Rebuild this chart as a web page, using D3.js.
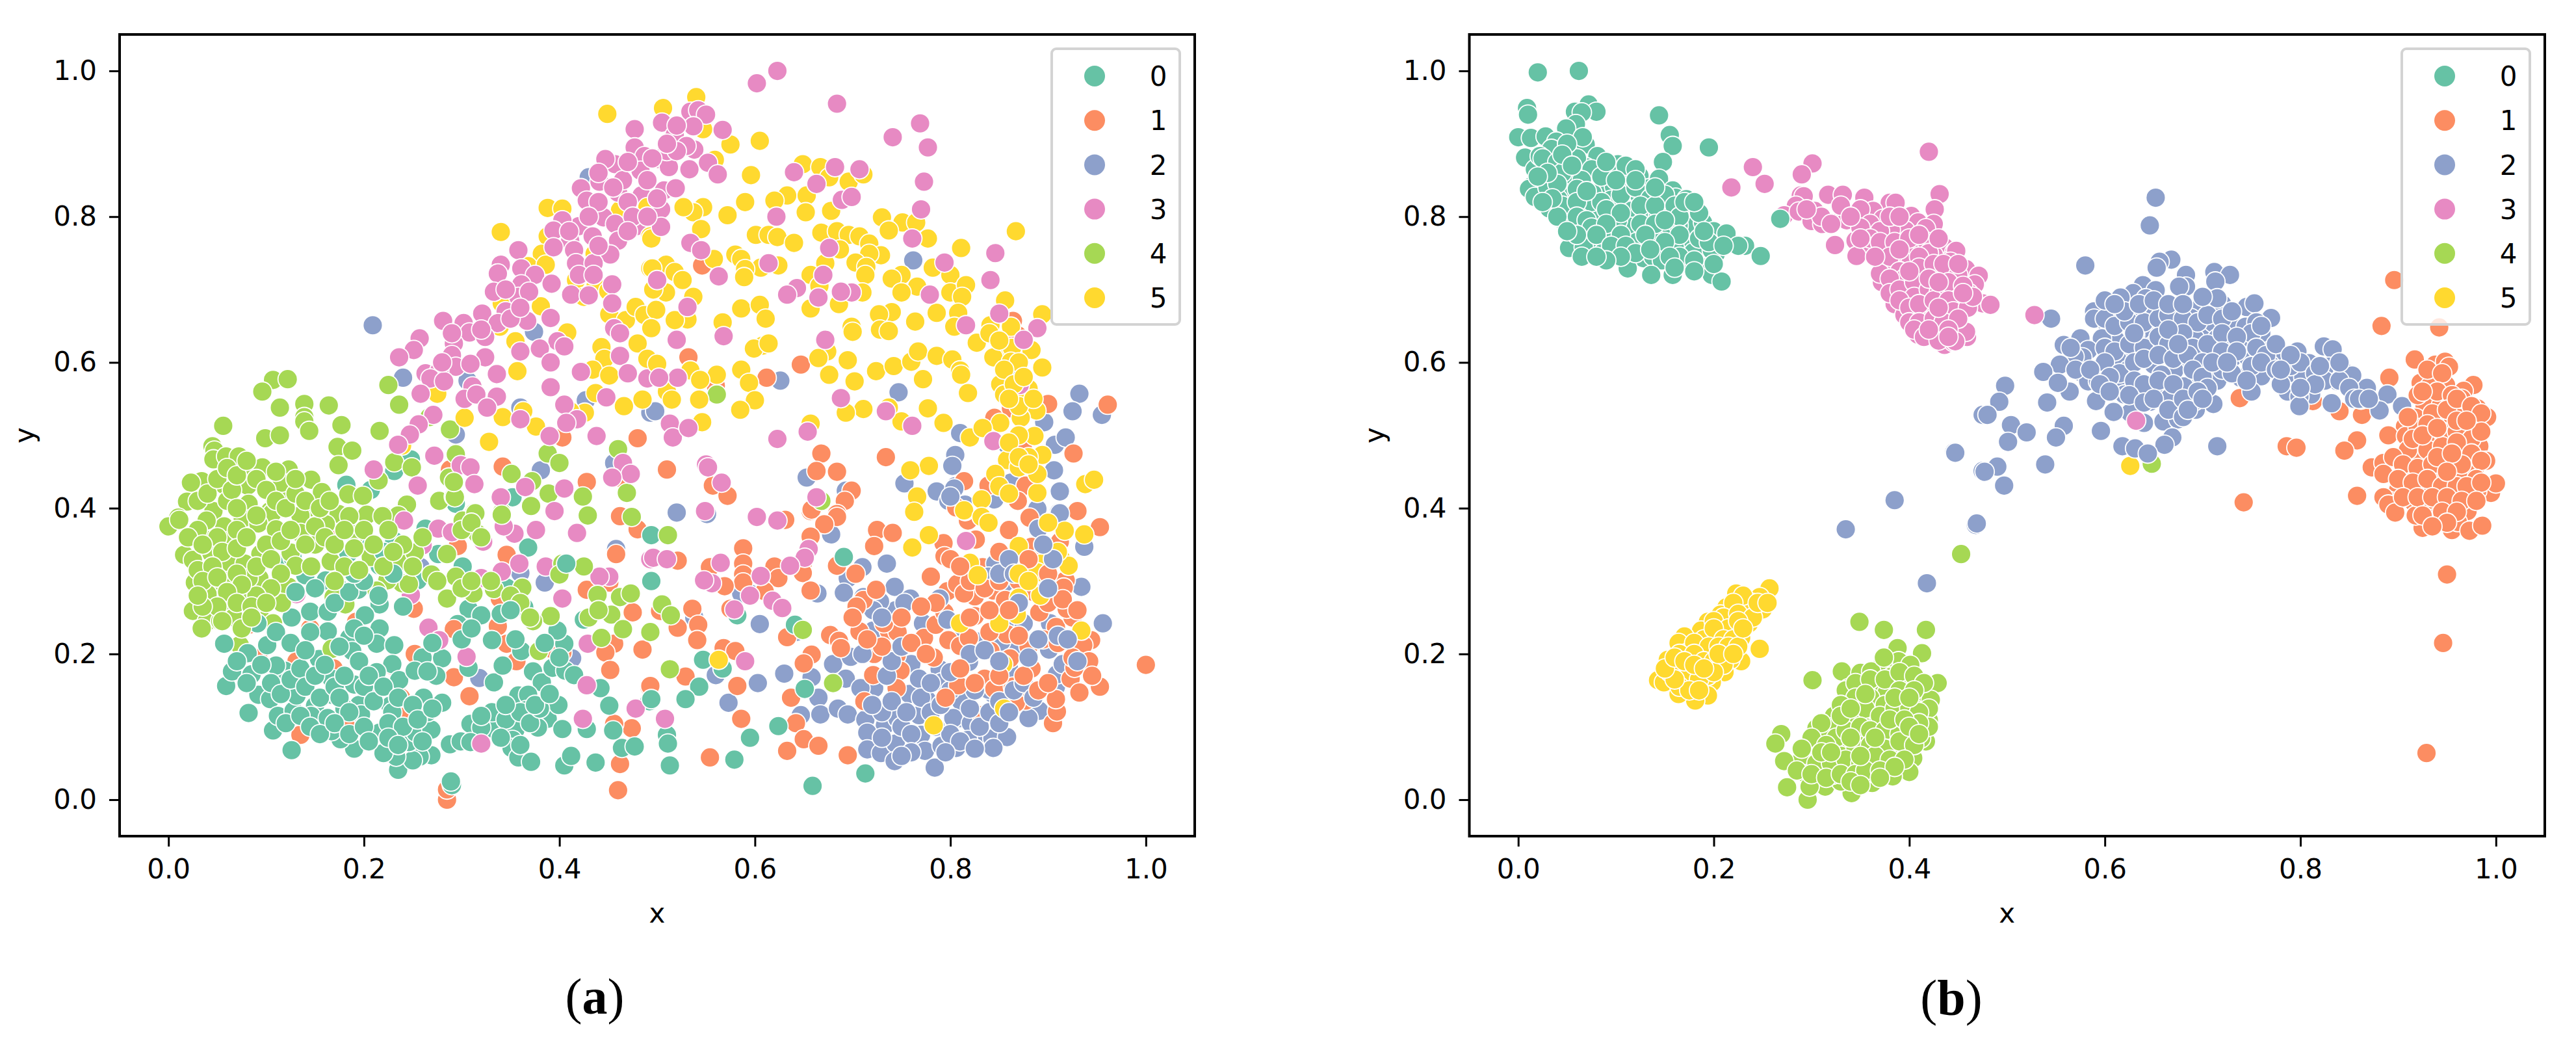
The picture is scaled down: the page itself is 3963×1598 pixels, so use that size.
<!DOCTYPE html>
<html>
<head>
<meta charset="utf-8">
<script src="https://cdnjs.cloudflare.com/ajax/libs/d3/7.8.5/d3.min.js"></script>
<style>
  html, body { margin: 0; padding: 0; background: #fff; }
  svg { display: block; }
  text { font-family: "DejaVu Sans", sans-serif; fill: #000; }
</style>
</head>
<body>
<svg></svg>
<script>
// values, one list per cluster: [x, y]
const a_0 = [[.182,.432],[.231,.451],[.207,.425],[.248,.467],[.294,.406],[.352,.415],[.368,.346],[.346,.291],[.364,.264],[.307,.262],[.32,.253],[.296,.241],[.301,.32],[.276,.337],[.263,.372],[.231,.355],[.184,.338],[.199,.357],[.216,.321],[.255,.301],[.194,.288],[.174,.291],[.161,.301],[.116,.324],[.127,.332],[.14,.308],[.145,.258],[.126,.25],[.163,.258],[.163,.231],[.216,.268],[.216,.235],[.201,.253],[.185,.222],[.188,.204],[.213,.214],[.231,.212],[.229,.186],[.213,.175],[.236,.164],[.26,.195],[.28,.194],[.274,.17],[.252,.177],[.265,.176],[.307,.181],[.333,.161],[.331,.219],[.342,.184],[.361,.204],[.373,.176],[.382,.161],[.405,.214],[.393,.181],[.406,.177],[.415,.171],[.425,.247],[.398,.232],[.358,.143],[.368,.144],[.386,.133],[.388,.111],[.403,.097],[.399,.13],[.366,.123],[.355,.096],[.378,.099],[.352,.082],[.351,.071],[.358,.058],[.371,.052],[.333,.097],[.331,.12],[.309,.104],[.32,.099],[.288,.076],[.299,.08],[.309,.079],[.405,.047],[.412,.06],[.437,.051],[.464,.071],[.477,.073],[.428,.097],[.455,.095],[.442,.153],[.451,.129],[.492,.135],[.29,.02],[.289,.025],[.269,.061],[.257,.059],[.235,.041],[.25,.054],[.233,.059],[.22,.064],[.246,.079],[.253,.092],[.269,.096],[.216,.092],[.19,.07],[.176,.083],[.167,.094],[.126,.068],[.107,.095],[.082,.119],[.059,.156],[.065,.176],[.085,.172],[.092,.144],[.104,.138],[.112,.115],[.128,.122],[.131,.143],[.15,.129],[.167,.144],[.19,.158],[.195,.13],[.197,.117],[.227,.129],[.229,.12],[.265,.12],[.261,.14],[.28,.133],[.119,.177],[.11,.184],[.154,.193],[.167,.166],[.146,.115],[.163,.112],[.18,.125],[.057,.214],[.081,.201],[.101,.212],[.091,.242],[.407,.324],[.494,.363],[.494,.3],[.582,.253],[.691,.333],[.641,.24],[.547,.192],[.567,.18],[.543,.155],[.529,.138],[.494,.138],[.51,.089],[.511,.077],[.513,.047],[.579,.055],[.595,.085],[.624,.101],[.659,.019],[.713,.036],[.651,.152]];
const a_0_core = [[.07,.19],[.08,.16],[.095,.185],[.105,.16],[.115,.145],[.125,.165],[.135,.18],[.14,.155],[.15,.17],[.155,.14],[.16,.185],[.17,.155],[.175,.14],[.18,.17],[.185,.12],[.195,.19],[.2,.155],[.205,.17],[.21,.135],[.22,.155],[.225,.105],[.235,.14],[.24,.1],[.25,.13],[.255,.11],[.26,.08],[.27,.125],[.12,.105],[.135,.115],[.145,.1],[.155,.09],[.17,.105],[.185,.09],[.2,.1],[.205,.08],[.225,.085],[.235,.075],[.175,.21],[.19,.235],[.2,.225],[.17,.27],[.185,.285],[.2,.3],[.215,.28],[.23,.31],[.24,.265],[.22,.34],[.19,.31],[.15,.29],[.13,.285],[.145,.23],[.11,.23],[.125,.215],[.14,.205],[.345,.11],[.36,.12],[.37,.105],[.38,.125],[.34,.085],[.36,.075],[.375,.13],[.39,.145],[.345,.13],[.32,.115],[.3,.22],[.31,.235],[.34,.255],[.35,.26],[.385,.215],[.4,.195],[.355,.22],[.27,.215]];
const a_1 = [[.403,.497],[.48,.496],[.288,.453],[.342,.457],[.428,.436],[.46,.442],[.463,.389],[.161,.363],[.07,.347],[.131,.19],[.169,.18],[.092,.194],[.082,.24],[.145,.235],[.192,.244],[.188,.105],[.135,.089],[.245,.118],[.238,.14],[.229,.184],[.252,.2],[.251,.262],[.292,.234],[.296,.348],[.292,.168],[.308,.142],[.356,.19],[.346,.214],[.337,.238],[.339,.276],[.346,.336],[.462,.389],[.48,.371],[.458,.337],[.428,.288],[.475,.257],[.456,.214],[.447,.202],[.452,.178],[.403,.202],[.392,.207],[.462,.049],[.46,.013],[.285,0],[.285,.014],[.474,.098],[.456,.104],[.485,.206],[.492,.155],[.451,.298],[.546,.733],[.532,.607],[.56,.568],[.612,.579],[.647,.597],[.864,.657],[.869,.637],[.9,.543],[.961,.542],[.845,.524],[.862,.537],[.874,.483],[.926,.475],[.734,.47],[.668,.475],[.51,.453],[.663,.451],[.684,.45],[.557,.431],[.572,.417],[.814,.437],[.839,.431],[.877,.431],[.869,.41],[.699,.424],[.692,.41],[.657,.396],[.93,.396],[.806,.401],[.631,.384],[.684,.392],[.725,.37],[.741,.366],[.722,.348],[.658,.398],[.684,.388],[.671,.378],[.657,.361],[.793,.352],[.794,.334],[.78,.306],[.818,.383],[.826,.357],[.86,.37],[.881,.387],[.953,.374],[.912,.354],[.883,.347],[.892,.332],[.833,.319],[.684,.321],[.703,.31],[.62,.32],[.624,.304],[.588,.345],[.588,.324],[.588,.309],[.588,.298],[.554,.319],[.569,.293],[.521,.328],[.61,.286],[.575,.262],[.649,.324],[.649,.311],[.657,.287],[.536,.262],[.521,.236],[.542,.24],[.541,.219],[.503,.259],[.568,.208],[.58,.204],[.633,.223],[.677,.226],[.686,.218],[.688,.208],[.658,.199],[.65,.187],[.529,.169],[.582,.156],[.493,.156],[.637,.14],[.642,.105],[.712,.135],[.586,.111],[.65,.083],[.665,.074],[.633,.067],[.554,.058],[.695,.061],[.711,.274],[.704,.265],[.707,.231],[.722,.2],[.721,.171],[.737,.232],[.746,.23],[.745,.198],[.749,.177],[.745,.153],[.732,.242],[.724,.288],[.783,.195],[.773,.222],[.785,.24],[.794,.257],[.797,.286],[.807,.296],[.825,.279],[.844,.287],[.856,.274],[.814,.283],[.798,.219],[.81,.211],[.819,.222],[.825,.252],[.841,.204],[.835,.166],[.845,.152],[.864,.155],[.877,.136],[.832,.116],[.867,.133],[.905,.105],[.909,.121],[.908,.138],[.883,.18],[.861,.194],[.891,.257],[.908,.237],[.925,.25],[.919,.262],[.944,.219],[.936,.212],[.942,.19],[.923,.166],[.932,.147],[.953,.155],[1,.185],[.918,.301],[.916,.291],[.857,.314],[.808,.157],[.927,.181],[.858,.227]];
const a_1_core = [[.82,.3],[.835,.29],[.85,.3],[.87,.3],[.885,.285],[.9,.27],[.915,.275],[.93,.26],[.895,.22],[.91,.215],[.925,.195],[.945,.17],[.88,.21],[.875,.17],[.89,.15],[.9,.16],[.85,.17],[.84,.23],[.82,.25],[.785,.27],[.77,.265],[.76,.215],[.775,.2],[.81,.18],[.825,.16],[.795,.14],[.75,.25],[.73,.21],[.715,.22],[.7,.25],[.8,.33],[.81,.32],[.85,.34],[.9,.31],[.88,.33],[.86,.26],[.84,.26],[.87,.225]];
const a_2 = [[.209,.651],[.24,.579],[.306,.575],[.43,.854],[.341,.697],[.374,.642],[.36,.538],[.427,.548],[.294,.501],[.381,.452],[.456,.462],[.493,.531],[.044,.311],[.258,.319],[.385,.298],[.36,.311],[.318,.167],[.413,.194],[.458,.344],[.762,.74],[.626,.575],[.747,.559],[.866,.592],[.932,.557],[.925,.533],[.955,.528],[.498,.533],[.896,.518],[.81,.503],[.805,.473],[.802,.458],[.858,.487],[.907,.487],[.918,.497],[.653,.442],[.753,.434],[.786,.423],[.805,.43],[.798,.41],[.862,.435],[.845,.412],[.906,.452],[.912,.423],[.911,.394],[.889,.399],[.693,.424],[.52,.394],[.551,.392],[.815,.405],[.678,.364],[.735,.324],[.71,.319],[.695,.304],[.691,.284],[.664,.283],[.743,.292],[.759,.276],[.744,.26],[.728,.272],[.721,.26],[.711,.278],[.721,.232],[.772,.242],[.605,.241],[.595,.283],[.586,.283],[.538,.25],[.642,.23],[.56,.171],[.567,.18],[.573,.133],[.603,.16],[.63,.173],[.658,.168],[.68,.186],[.698,.196],[.693,.166],[.665,.14],[.667,.117],[.685,.125],[.695,.117],[.647,.116],[.722,.153],[.708,.153],[.713,.11],[.733,.102],[.746,.111],[.715,.092],[.715,.069],[.729,.064],[.744,.077],[.743,.053],[.77,.089],[.768,.116],[.776,.137],[.76,.186],[.758,.145],[.789,.179],[.768,.166],[.791,.161],[.774,.067],[.784,.044],[.791,.074],[.806,.071],[.81,.112],[.811,.135],[.803,.112],[.821,.105],[.835,.084],[.843,.084],[.858,.086],[.844,.071],[.818,.082],[.891,.122],[.88,.112],[.908,.155],[.909,.172],[.86,.18],[.869,.213],[.901,.206],[.927,.204],[.852,.217],[.915,.186],[.956,.242],[.934,.292],[.937,.347],[.846,.324],[.856,.298],[.879,.301],[.839,.306],[.858,.247],[.875,.242],[.902,.242],[.81,.222],[.827,.217],[.819,.189],[.844,.145],[.839,.151],[.797,.247],[.789,.276],[.753,.27],[.89,.372],[.912,.393],[.804,.427],[.8,.416]];
const a_2_core = [[.73,.12],[.74,.135],[.75,.1],[.755,.12],[.76,.09],[.77,.14],[.78,.12],[.785,.1],[.79,.13],[.8,.09],[.8,.15],[.81,.08],[.82,.125],[.825,.15],[.83,.1],[.84,.12],[.85,.105],[.85,.135],[.86,.12],[.865,.15],[.875,.16],[.885,.14],[.825,.07],[.795,.065],[.76,.065],[.75,.06],[.73,.085],[.72,.13],[.735,.17],[.74,.19],[.75,.21],[.71,.2],[.73,.25],[.78,.16],[.8,.175],[.82,.2],[.835,.205],[.85,.19],[.88,.195],[.89,.22],[.91,.225],[.92,.22],[.93,.19],[.87,.27],[.85,.31],[.86,.33],[.865,.31],[.9,.29],[.905,.33],[.895,.35]];
const a_3 = [[.477,.92],[.477,.895],[.487,.883],[.457,.872],[.447,.879],[.483,.863],[.441,.848],[.422,.839],[.46,.833],[.484,.829],[.428,.822],[.445,.799],[.457,.79],[.479,.787],[.42,.787],[.403,.795],[.394,.781],[.411,.767],[.434,.773],[.46,.767],[.415,.754],[.394,.758],[.452,.748],[.417,.736],[.435,.736],[.358,.754],[.34,.734],[.337,.722],[.361,.729],[.375,.72],[.392,.708],[.361,.707],[.333,.697],[.454,.707],[.412,.693],[.43,.692],[.358,.69],[.369,.697],[.454,.681],[.345,.67],[.321,.667],[.281,.657],[.302,.654],[.337,.654],[.367,.657],[.391,.661],[.308,.641],[.456,.647],[.462,.64],[.257,.633],[.324,.635],[.292,.626],[.398,.629],[.405,.622],[.251,.617],[.236,.607],[.29,.61],[.324,.607],[.36,.615],[.38,.619],[.462,.609],[.391,.6],[.294,.594],[.309,.598],[.422,.587],[.47,.585],[.49,.578],[.263,.585],[.277,.588],[.268,.578],[.336,.584],[.282,.574],[.391,.566],[.311,.567],[.258,.557],[.303,.55],[.315,.556],[.336,.553],[.448,.552],[.326,.538],[.36,.522],[.271,.528],[.256,.515],[.405,.542],[.418,.522],[.407,.517],[.39,.499],[.247,.501],[.235,.487],[.438,.499],[.21,.453],[.272,.472],[.299,.459],[.309,.456],[.465,.462],[.473,.447],[.454,.442],[.313,.433],[.255,.431],[.405,.427],[.365,.429],[.34,.415],[.395,.396],[.131,.282],[.143,.168],[.21,.145],[.248,.281],[.26,.349],[.266,.236],[.277,.219],[.276,.372],[.29,.367],[.305,.196],[.32,.077],[.322,.354],[.32,.304],[.341,.313],[.354,.365],[.359,.324],[.376,.37],[.386,.32],[.418,.366],[.451,.306],[.441,.306],[.403,.276],[.429,.214],[.428,.157],[.424,.111],[.478,.125],[.493,.33],[.343,.375],[.241,.383],[.623,1],[.602,.983],[.684,.955],[.769,.928],[.741,.909],[.777,.895],[.773,.848],[.77,.81],[.761,.77],[.534,.944],[.542,.946],[.55,.94],[.505,.929],[.537,.924],[.567,.919],[.518,.912],[.538,.892],[.53,.897],[.502,.879],[.512,.868],[.533,.865],[.552,.874],[.562,.858],[.507,.836],[.519,.839],[.504,.81],[.504,.786],[.622,.8],[.663,.845],[.682,.868],[.707,.865],[.64,.861],[.689,.823],[.699,.827],[.846,.75],[.841,.713],[.534,.764],[.545,.754],[.563,.718],[.676,.757],[.67,.72],[.794,.737],[.779,.693],[.643,.702],[.633,.693],[.665,.689],[.699,.696],[.688,.697],[.614,.736],[.5,.713],[.531,.676],[.85,.667],[.816,.651],[.889,.647],[.875,.631],[.52,.631],[.568,.636],[.672,.631],[.521,.579],[.502,.579],[.688,.551],[.871,.569],[.734,.533],[.761,.513],[.513,.516],[.516,.497],[.532,.51],[.654,.505],[.623,.495],[.844,.492],[.55,.46],[.552,.456],[.566,.435],[.663,.415],[.549,.396],[.602,.388],[.623,.383],[.816,.355],[.655,.344],[.651,.332],[.636,.321],[.565,.325],[.606,.307],[.556,.297],[.548,.301],[.595,.28],[.618,.273],[.628,.263],[.579,.261],[.59,.19],[.508,.111],[.496,.332],[.51,.33]];
const a_3_core = [[.44,.86],[.465,.85],[.47,.875],[.455,.84],[.47,.82],[.44,.82],[.475,.8],[.43,.8],[.41,.78],[.44,.76],[.47,.78],[.42,.72],[.435,.72],[.345,.7],[.35,.66],[.36,.675],[.32,.645],[.29,.64],[.28,.6],[.51,.89],[.52,.89],[.51,.9],[.495,.88],[.49,.85],[.5,.825],[.49,.8],[.52,.925]];
const a_4 = [[.107,.576],[.122,.577],[.096,.56],[.139,.543],[.114,.538],[.139,.525],[.139,.519],[.144,.506],[.164,.541],[.177,.514],[.056,.513],[.099,.496],[.114,.5],[.173,.484],[.188,.479],[.216,.506],[.225,.569],[.236,.542],[.267,.525],[.288,.508],[.045,.485],[.047,.479],[.046,.467],[.059,.471],[.072,.471],[.096,.456],[.078,.447],[.123,.453],[.174,.459],[.231,.463],[.249,.456],[.388,.475],[.4,.462],[.294,.474],[.287,.442],[.351,.447],[.372,.437],[.46,.481],[.424,.416],[.469,.421],[.389,.42],[.371,.403],[.277,.41],[.292,.416],[.313,.394],[.244,.405],[.215,.438],[.184,.419],[.199,.417],[.146,.439],[.157,.422],[.125,.417],[.116,.435],[.081,.431],[.057,.432],[.034,.437],[.023,.435],[.019,.409],[.01,.387],[.046,.396],[.104,.396],[.144,.401],[.174,.392],[.203,.391],[.22,.39],[.235,.39],[.341,.394],[.429,.39],[0,.375],[.011,.384],[.082,.406],[.076,.386],[.106,.393],[.135,.39],[.092,.379],[.11,.371],[.057,.375],[.039,.383],[.135,.366],[.041,.356],[.064,.356],[.016,.336],[.025,.329],[.044,.338],[.094,.337],[.064,.324],[.078,.324],[.125,.339],[.13,.321],[.093,.304],[.027,.298],[.058,.3],[.082,.304],[.046,.279],[.078,.281],[.04,.282],[.123,.292],[.065,.263],[.093,.257],[.025,.259],[.039,.244],[.034,.235],[.053,.245],[.067,.25],[.107,.242],[.116,.27],[.073,.212],[.146,.32],[.15,.35],[.161,.378],[.185,.389],[.191,.364],[.166,.327],[.207,.333],[.219,.389],[.239,.327],[.239,.297],[.224,.301],[.213,.287],[.181,.268],[.169,.278],[.252,.339],[.246,.296],[.269,.309],[.285,.337],[.294,.306],[.285,.276],[.312,.283],[.301,.383],[.314,.393],[.316,.365],[.293,.415],[.292,.436],[.341,.391],[.403,.324],[.425,.32],[.4,.309],[.439,.281],[.462,.278],[.473,.283],[.453,.254],[.465,.234],[.391,.252],[.373,.245],[.362,.291],[.333,.289],[.379,.204],[.167,.207],[.474,.388],[.493,.23],[.443,.222],[.561,.556],[.511,.363],[.505,.268],[.514,.253],[.513,.179],[.649,.233],[.68,.16],[.668,.41]];
const a_4_core = [[.03,.41],[.04,.42],[.05,.44],[.06,.41],[.065,.425],[.07,.4],[.09,.44],[.1,.425],[.11,.41],[.12,.4],[.13,.42],[.14,.41],[.09,.39],[.07,.37],[.05,.36],[.03,.37],[.02,.36],[.035,.35],[.055,.34],[.07,.345],[.08,.36],[.1,.35],[.115,.355],[.125,.37],[.14,.35],[.15,.375],[.16,.36],[.17,.35],[.18,.37],[.03,.315],[.045,.32],[.035,.3],[.05,.305],[.07,.31],[.09,.32],[.105,.33],[.115,.31],[.105,.29],[.09,.28],[.075,.295],[.06,.285],[.05,.265],[.035,.265],[.03,.28],[.07,.27],[.085,.265],[.1,.27],[.055,.245],[.075,.235],[.085,.25],[.06,.455],[.07,.445],[.08,.465],[.11,.45],[.13,.44],[.155,.4],[.165,.41],[.2,.37],[.21,.35],[.225,.37],[.24,.35],[.26,.36],[.22,.32],[.23,.34],[.18,.32],[.19,.345],[.17,.3],[.195,.315],[.25,.32],[.275,.3],[.3,.29],[.31,.3],[.33,.3],[.35,.28],[.36,.27],[.3,.37],[.31,.38],[.32,.36],[.37,.25],[.43,.25],[.44,.26]];
const a_5 = [[.449,.941],[.388,.812],[.403,.811],[.34,.779],[.462,.809],[.464,.776],[.388,.773],[.382,.749],[.368,.732],[.386,.734],[.436,.749],[.417,.713],[.437,.705],[.45,.698],[.425,.69],[.341,.681],[.381,.677],[.451,.666],[.468,.658],[.478,.676],[.487,.665],[.493,.729],[.493,.773],[.49,.813],[.408,.641],[.355,.629],[.339,.649],[.48,.626],[.443,.621],[.446,.605],[.49,.605],[.434,.59],[.451,.582],[.357,.588],[.275,.557],[.437,.558],[.485,.549],[.466,.54],[.426,.531],[.411,.533],[.363,.533],[.342,.525],[.303,.524],[.376,.512],[.328,.491],[.239,.486],[.54,.964],[.506,.949],[.547,.92],[.605,.904],[.575,.899],[.596,.857],[.559,.878],[.649,.872],[.667,.868],[.676,.854],[.696,.848],[.711,.858],[.633,.829],[.59,.82],[.62,.822],[.653,.829],[.652,.806],[.547,.813],[.537,.806],[.527,.813],[.572,.802],[.678,.808],[.73,.799],[.751,.792],[.765,.792],[.737,.781],[.545,.783],[.494,.77],[.601,.775],[.614,.775],[.623,.772],[.64,.764],[.668,.778],[.684,.78],[.696,.775],[.707,.773],[.717,.763],[.777,.77],[.867,.78],[.811,.757],[.687,.755],[.729,.747],[.717,.749],[.703,.737],[.58,.748],[.586,.742],[.558,.742],[.624,.733],[.606,.73],[.59,.728],[.589,.717],[.672,.736],[.509,.734],[.495,.729],[.518,.724],[.526,.713],[.509,.696],[.537,.69],[.496,.7],[.657,.72],[.666,.705],[.714,.731],[.713,.72],[.71,.696],[.686,.68],[.657,.674],[.75,.72],[.74,.715],[.782,.73],[.8,.72],[.766,.704],[.75,.696],[.8,.696],[.816,.706],[.812,.69],[.856,.685],[.894,.666],[.786,.668],[.808,.668],[.841,.651],[.804,.649],[.764,.656],[.74,.669],[.727,.666],[.728,.645],[.737,.643],[.699,.649],[.7,.642],[.586,.674],[.605,.679],[.611,.66],[.567,.655],[.531,.659],[.518,.658],[.499,.672],[.494,.647],[.827,.627],[.862,.649],[.86,.615],[.883,.617],[.863,.62],[.844,.607],[.862,.601],[.894,.593],[.608,.623],[.599,.619],[.614,.626],[.674,.615],[.665,.606],[.695,.603],[.676,.583],[.702,.574],[.724,.588],[.742,.595],[.76,.601],[.767,.615],[.786,.609],[.802,.604],[.81,.589],[.811,.583],[.772,.577],[.818,.558],[.586,.59],[.594,.572],[.561,.583],[.534,.589],[.544,.576],[.5,.598],[.51,.56],[.515,.549],[.543,.549],[.6,.548],[.585,.535],[.851,.57],[.88,.564],[.855,.556],[.878,.549],[.888,.534],[.872,.524],[.851,.517],[.737,.538],[.777,.537],[.711,.536],[.693,.531],[.75,.519],[.793,.517],[.82,.497],[.833,.51],[.886,.499],[.657,.516],[.546,.518],[.894,.473],[.858,.466],[.778,.458],[.759,.452],[.938,.433],[.947,.439],[.889,.421],[.846,.447],[.889,.447],[.87,.456],[.766,.416],[.763,.395],[.832,.412],[.815,.396],[.783,.102],[.855,.125],[.854,.186],[.761,.346],[.778,.363],[.82,.325],[.828,.308],[.87,.348],[.893,.324],[.889,.312],[.913,.331],[.921,.321],[.917,.369],[.937,.364],[.87,.277],[.892,.28],[.868,.254],[.814,.397],[.832,.388],[.839,.38],[.934,.232],[.81,.242],[.85,.242],[.563,.192]];
const a_5_core = [[.84,.64],[.85,.63],[.87,.6],[.855,.59],[.865,.57],[.87,.54],[.86,.55],[.875,.58],[.885,.55],[.87,.5],[.86,.49],[.88,.47],[.87,.47],[.85,.43],[.86,.42],[.88,.46],[.9,.38],[.91,.34],[.87,.31],[.88,.3]];

const b_0 = [[.02,.998],[.062,1],[.009,.949],[.01,.94],[.072,.954],[.08,.944],[.058,.944],[.065,.943],[.059,.927],[.049,.921],[.144,.939],[.155,.912],[.158,.897],[.148,.875],[.195,.895],[0,.909],[.013,.908],[.028,.91],[.039,.903],[.034,.893],[.051,.894],[.069,.899],[.066,.909],[.081,.883],[.007,.881],[.017,.865],[.034,.872],[.054,.865],[.054,.855],[.069,.868],[.102,.872],[.094,.862],[.109,.858],[.124,.856],[.134,.839],[.144,.852],[.158,.836],[.161,.826],[.172,.824],[.031,.849],[.014,.842],[.011,.838],[.027,.827],[.017,.827],[.049,.832],[.032,.811],[.052,.81],[.068,.811],[.086,.841],[.098,.841],[.11,.84],[.076,.832],[.095,.823],[.124,.829],[.115,.808],[.149,.813],[.13,.802],[.175,.805],[.083,.799],[.049,.788],[.054,.795],[.115,.786],[.136,.784],[.155,.78],[.178,.786],[.189,.792],[.2,.78],[.213,.777],[.073,.779],[.09,.769],[.121,.765],[.143,.767],[.054,.767],[.066,.765],[.077,.761],[.054,.758],[.1,.761],[.172,.761],[.16,.758],[.179,.751],[.202,.749],[.198,.754],[.232,.76],[.225,.76],[.248,.746],[.052,.757],[.067,.758],[.087,.751],[.113,.746],[.128,.743],[.138,.745],[.147,.74],[.17,.736],[.189,.729],[.192,.73],[.198,.72],[.208,.711],[.112,.729],[.136,.72],[.158,.72],[.268,.797],[.022,.883],[.028,.854],[.041,.824],[.064,.824],[.102,.795],[.143,.802],[.164,.788]];
const b_0_core = [[.025,.88],[.04,.875],[.06,.88],[.075,.865],[.045,.86],[.065,.85],[.085,.855],[.03,.84],[.04,.845],[.06,.838],[.075,.82],[.085,.82],[.105,.83],[.12,.84],[.135,.825],[.15,.83],[.045,.815],[.06,.82],[.04,.8],[.06,.8],[.07,.795],[.09,.81],[.105,.805],[.125,.815],[.14,.815],[.16,.815],[.165,.8],[.185,.805],[.075,.785],[.09,.79],[.105,.775],[.125,.79],[.14,.79],[.15,.795],[.165,.775],[.185,.77],[.195,.765],[.06,.775],[.08,.775],[.095,.76],[.11,.76],[.13,.775],[.15,.765],[.165,.745],[.18,.74],[.12,.75],[.135,.755],[.105,.745],[.155,.745],[.16,.73],[.18,.725],[.2,.735],[.09,.74],[.065,.745],[.08,.745],[.03,.86],[.02,.855],[.05,.9],[.045,.885],[.055,.87],[.09,.875],[.11,.87],[.12,.865],[.1,.85],[.12,.85],[.14,.84],[.17,.82],[.18,.82],[.19,.78],[.21,.76],[.035,.825],[.025,.82],[.05,.78],[.07,.835]];
const b_1 = [[.896,.713],[.883,.65],[.942,.648],[.917,.604],[.938,.597],[.948,.601],[.952,.594],[.94,.581],[.891,.579],[.923,.572],[.949,.569],[.932,.567],[.977,.569],[.967,.561],[.928,.551],[.927,.541],[.944,.542],[.981,.537],[.964,.533],[.991,.525],[.918,.524],[.939,.52],[.956,.518],[.98,.513],[.965,.5],[.907,.512],[.89,.5],[.908,.499],[.931,.496],[.983,.485],[.922,.478],[.863,.528],[.862,.549],[.84,.533],[.738,.551],[.813,.547],[.824,.576],[.786,.485],[.796,.483],[.858,.493],[.845,.479],[.941,.474],[.909,.472],[.924,.467],[.99,.465],[.956,.481],[.969,.467],[.873,.456],[.885,.462],[.885,.447],[.946,.446],[.962,.447],[.905,.447],[.979,.456],[.742,.408],[.858,.417],[.952,.426],[.979,.424],[.995,.421],[1,.434],[.932,.424],[.916,.424],[.9,.425],[.891,.41],[.885,.415],[.936,.401],[.916,.408],[.954,.408],[.89,.405],[.897,.394],[.925,.398],[.936,.403],[.939,.387],[.971,.396],[.955,.408],[.925,.373],[.936,.376],[.955,.37],[.961,.381],[.973,.369],[.986,.376],[.918,.39],[.95,.309],[.946,.215],[.929,.064],[.981,.424]];
const b_1_core = [[.93,.59],[.945,.585],[.94,.56],[.955,.555],[.965,.55],[.92,.555],[.935,.53],[.95,.535],[.96,.55],[.975,.54],[.985,.53],[.92,.51],[.93,.515],[.945,.505],[.96,.505],[.975,.495],[.985,.505],[.91,.48],[.915,.495],[.93,.48],[.945,.485],[.96,.49],[.975,.475],[.985,.465],[.895,.47],[.905,.46],[.92,.455],[.935,.46],[.95,.465],[.965,.46],[.98,.44],[.9,.44],[.915,.435],[.93,.44],[.945,.43],[.96,.43],[.97,.43],[.985,.435],[.905,.415],[.92,.415],[.935,.415],[.95,.415],[.965,.41],[.98,.41],[.925,.39],[.945,.395],[.96,.395],[.95,.38],[.935,.375],[.94,.47],[.955,.475],[.925,.5],[.95,.45],[.96,.52],[.97,.52],[.94,.51],[.91,.525],[.925,.56]];
const b_2 = [[.446,.477],[.475,.451],[.475,.528],[.385,.411],[.335,.371],[.418,.297],[.468,.377],[.469,.379],[.652,.826],[.646,.788],[.58,.733],[.668,.741],[.656,.738],[.653,.73],[.683,.72],[.712,.724],[.728,.72],[.713,.711],[.683,.704],[.676,.704],[.639,.706],[.652,.699],[.629,.695],[.616,.689],[.642,.688],[.545,.66],[.589,.67],[.589,.66],[.72,.68],[.745,.676],[.753,.681],[.77,.661],[.698,.676],[.688,.661],[.677,.67],[.662,.676],[.648,.666],[.632,.667],[.618,.661],[.715,.688],[.732,.65],[.701,.642],[.711,.654],[.744,.649],[.692,.633],[.671,.64],[.643,.638],[.631,.638],[.611,.631],[.603,.649],[.597,.633],[.575,.633],[.558,.624],[.583,.617],[.746,.625],[.728,.626],[.715,.633],[.769,.624],[.779,.608],[.797,.615],[.824,.622],[.833,.618],[.809,.599],[.829,.594],[.65,.624],[.624,.608],[.666,.611],[.685,.597],[.713,.606],[.73,.606],[.746,.608],[.613,.604],[.577,.607],[.569,.608],[.554,.597],[.575,.587],[.537,.587],[.624,.59],[.65,.597],[.769,.597],[.76,.581],[.739,.579],[.694,.578],[.715,.575],[.671,.589],[.658,.583],[.787,.58],[.803,.58],[.844,.588],[.853,.582],[.838,.574],[.868,.565],[.583,.574],[.593,.574],[.564,.56],[.552,.572],[.498,.568],[.614,.567],[.62,.556],[.648,.563],[.662,.569],[.681,.567],[.75,.56],[.787,.56],[.811,.556],[.799,.553],[.832,.544],[.889,.556],[.881,.534],[.904,.54],[.541,.545],[.591,.547],[.492,.546],[.48,.528],[.646,.546],[.666,.551],[.711,.543],[.693,.535],[.692,.547],[.626,.531],[.609,.532],[.799,.54],[.64,.517],[.66,.519],[.675,.522],[.504,.514],[.558,.513],[.52,.504],[.55,.497],[.501,.491],[.596,.506],[.669,.497],[.661,.487],[.618,.485],[.631,.482],[.644,.475],[.715,.485],[.447,.476],[.49,.457],[.477,.45],[.539,.46],[.497,.431]];
const b_2_core = [[.6,.66],[.61,.65],[.625,.655],[.64,.655],[.655,.66],[.665,.665],[.68,.66],[.695,.655],[.705,.665],[.72,.66],[.73,.67],[.755,.655],[.76,.64],[.75,.64],[.6,.62],[.61,.615],[.625,.625],[.64,.62],[.655,.635],[.665,.625],[.68,.64],[.69,.62],[.705,.625],[.72,.64],[.735,.635],[.755,.62],[.765,.61],[.6,.6],[.615,.585],[.63,.6],[.64,.605],[.655,.61],[.67,.605],[.685,.61],[.7,.6],[.72,.615],[.735,.615],[.75,.595],[.76,.6],[.775,.59],[.79,.595],[.8,.6],[.815,.585],[.825,.575],[.815,.57],[.8,.565],[.78,.57],[.63,.575],[.64,.57],[.655,.575],[.67,.57],[.69,.59],[.7,.58],[.705,.565],[.72,.59],[.73,.585],[.745,.575],[.605,.58],[.625,.555],[.64,.545],[.65,.55],[.665,.535],[.68,.55],[.695,.56],[.68,.525],[.685,.535],[.7,.55],[.63,.64],[.62,.67],[.635,.68],[.65,.685],[.665,.68],[.68,.68],[.7,.69],[.76,.65],[.775,.625],[.79,.61],[.84,.575],[.85,.565],[.855,.55],[.82,.595],[.84,.6],[.86,.55],[.87,.55],[.78,.59],[.57,.59],[.565,.62],[.585,.59],[.595,.57],[.605,.56],[.6,.685],[.61,.68],[.665,.645],[.675,.625],[.71,.6],[.725,.6]];
const b_3 = [[.42,.889],[.301,.873],[.29,.858],[.24,.868],[.252,.845],[.218,.84],[.431,.831],[.426,.81],[.289,.829],[.292,.828],[.317,.83],[.332,.83],[.354,.826],[.38,.819],[.386,.819],[.284,.815],[.272,.802],[.287,.807],[.303,.808],[.3,.794],[.311,.79],[.332,.799],[.336,.795],[.363,.808],[.349,.801],[.402,.801],[.409,.792],[.425,.79],[.373,.797],[.417,.784],[.396,.781],[.381,.782],[.359,.776],[.345,.767],[.324,.761],[.417,.766],[.436,.758],[.446,.751],[.44,.739],[.4,.754],[.361,.758],[.346,.746],[.372,.739],[.4,.736],[.425,.747],[.383,.747],[.389,.726],[.374,.729],[.419,.725],[.459,.727],[.468,.707],[.444,.701],[.415,.71],[.372,.71],[.385,.708],[.4,.696],[.458,.695],[.431,.708],[.385,.68],[.418,.678],[.451,.681],[.395,.665],[.407,.665],[.44,.669],[.417,.656],[.453,.649],[.409,.638],[.426,.642],[.459,.635],[.436,.624],[.445,.628],[.417,.647],[.475,.681],[.37,.722],[.429,.729],[.448,.753],[.458,.728],[.471,.719],[.467,.707],[.448,.701],[.461,.695],[.453,.681],[.483,.679],[.528,.665],[.452,.65],[.458,.642],[.447,.629],[.442,.738],[.632,.52]];
const b_3_core = [[.35,.81],[.36,.79],[.37,.78],[.38,.8],[.39,.8],[.35,.785],[.36,.77],[.37,.765],[.385,.765],[.4,.77],[.41,.775],[.42,.75],[.43,.77],[.38,.745],[.39,.725],[.395,.715],[.41,.745],[.41,.73],[.425,.735],[.435,.735],[.45,.72],[.45,.735],[.38,.715],[.38,.695],[.39,.7],[.405,.71],[.405,.69],[.42,.7],[.43,.695],[.44,.71],[.455,.705],[.39,.685],[.4,.675],[.41,.68],[.425,.685],[.44,.685],[.445,.67],[.46,.675],[.4,.655],[.41,.655],[.425,.66],[.435,.655],[.45,.66],[.405,.645],[.415,.635],[.43,.63],[.44,.645],[.44,.635],[.33,.815],[.34,.8],[.31,.8],[.295,.81],[.32,.79],[.35,.77],[.365,.745],[.39,.755],[.42,.715],[.43,.71],[.4,.725],[.465,.69],[.455,.695],[.43,.675],[.42,.645]];
const b_4 = [[.453,.337],[.648,.461],[.349,.244],[.374,.233],[.417,.233],[.413,.201],[.388,.208],[.389,.19],[.373,.188],[.401,.185],[.429,.16],[.301,.164],[.331,.176],[.35,.174],[.361,.176],[.382,.169],[.399,.164],[.338,.153],[.359,.153],[.377,.147],[.41,.142],[.422,.137],[.391,.136],[.341,.128],[.357,.115],[.374,.124],[.323,.115],[.42,.109],[.323,.1],[.305,.098],[.405,.093],[.383,.093],[.344,.1],[.269,.09],[.263,.077],[.301,.076],[.35,.085],[.368,.08],[.326,.07],[.417,.08],[.312,.062],[.404,.057],[.383,.051],[.36,.05],[.289,.053],[.272,.053],[.332,.043],[.295,.035],[.4,.038],[.344,.052],[.361,.033],[.275,.017],[.314,.018],[.296,0],[.341,.009],[.362,.023],[.383,.032],[.33,.025],[.298,.018],[.351,.029],[.374,.195],[.34,.136],[.366,.102],[.391,.102],[.402,.111],[.412,.084],[.395,.07],[.31,.088],[.298,.075],[.336,.079],[.357,.07],[.378,.066],[.34,.102],[.378,.111],[.355,.088],[.34,.048],[.306,.038],[.321,.034],[.365,.129],[.349,.111],[.408,.161],[.402,.129]];
const b_4_core = [[.335,.15],[.345,.16],[.36,.165],[.375,.165],[.39,.175],[.405,.17],[.415,.16],[.345,.14],[.36,.14],[.375,.13],[.39,.15],[.405,.15],[.42,.125],[.33,.13],[.345,.115],[.355,.125],[.37,.115],[.385,.125],[.4,.125],[.41,.12],[.42,.1],[.31,.105],[.325,.085],[.335,.095],[.35,.1],[.36,.095],[.375,.095],[.39,.09],[.41,.105],[.3,.085],[.315,.075],[.33,.06],[.345,.07],[.36,.075],[.375,.07],[.39,.08],[.405,.075],[.29,.07],[.305,.05],[.32,.05],[.335,.055],[.35,.05],[.365,.06],[.38,.055],[.395,.055],[.285,.04],[.3,.035],[.315,.03],[.33,.035],[.345,.035],[.355,.04],[.37,.04],[.385,.045],[.31,.065],[.34,.085],[.365,.085],[.38,.11],[.395,.11],[.355,.145],[.385,.14],[.4,.14],[.35,.06],[.32,.065],[.34,.025],[.35,.02],[.37,.03],[.4,.1],[.41,.09],[.33,.115],[.34,.125]];
const b_5 = [[.626,.458],[.257,.29],[.247,.278],[.223,.283],[.234,.269],[.25,.261],[.221,.262],[.213,.264],[.236,.242],[.207,.254],[.194,.244],[.187,.232],[.215,.244],[.223,.229],[.17,.224],[.247,.207],[.215,.206],[.164,.215],[.187,.208],[.228,.222],[.204,.226],[.234,.251],[.192,.198],[.228,.19],[.153,.192],[.159,.186],[.172,.201],[.217,.192],[.204,.188],[.185,.176],[.172,.17],[.211,.175],[.151,.17],[.143,.164],[.198,.161],[.179,.161],[.17,.147],[.194,.143],[.181,.136],[.164,.145],[.149,.161],[.194,.17],[.219,.208],[.238,.265],[.2,.201],[.179,.188],[.164,.176]];
const b_5_core = [[.24,.27],[.23,.28],[.22,.27],[.21,.25],[.225,.255],[.24,.25],[.2,.245],[.215,.235],[.225,.245],[.19,.22],[.2,.235],[.21,.22],[.22,.22],[.18,.215],[.195,.21],[.205,.21],[.215,.21],[.225,.21],[.165,.2],[.18,.2],[.19,.19],[.2,.19],[.21,.185],[.155,.175],[.165,.185],[.175,.175],[.185,.165],[.2,.175],[.165,.155],[.175,.15],[.185,.15],[.16,.165],[.15,.18],[.16,.195],[.17,.19],[.18,.185],[.19,.18],[.205,.2],[.22,.2],[.23,.235],[.245,.27],[.255,.27]];

const categories = ["0", "1", "2", "3", "4", "5"];
const colors = ["#66c2a5", "#fc8d62", "#8da0cb", "#e78ac3", "#a6d854", "#ffd92f"];
const x_ticks = [0, 0.2, 0.4, 0.6, 0.8, 1.0];
const y_ticks = [0, 0.2, 0.4, 0.6, 0.8, 1.0];

const width = 3963, height = 1598;
const margin = { top: 53, bottom: 312 };

const svg = d3.select("svg").attr("width", width).attr("height", height).attr("viewBox", [0, 0, width, height]);

function draw_panel(left, right, series, label, label_x, label_y) {
  const x_scale = d3.scaleLinear().domain([-0.05, 1.05]).range([left, right]);
  const y_scale = d3.scaleLinear().domain([-0.05, 1.05]).range([height - margin.bottom, margin.top]);

  // mix the clusters so no colour sits on top of all the others
  const points = d3.merge(series.map((list, c) =>
    list.map((d, i) => ({ x: d[0], y: d[1], c: c, order: i / list.length }))));
  points.sort((a, b) => d3.ascending(a.order, b.order));

  svg.append("g")
    .selectAll("circle")
    .data(points)
    .join("circle")
    .attr("cx", (d) => x_scale(d.x))
    .attr("cy", (d) => y_scale(d.y))
    .attr("r", 15)
    .attr("fill", (d) => colors[d.c])
    .attr("stroke", "#fff")
    .attr("stroke-width", 1.8);

  const x_axis = d3.axisBottom(x_scale).tickValues(x_ticks).tickFormat(d3.format(".1f")).tickSize(16).tickPadding(19);
  const y_axis = d3.axisLeft(y_scale).tickValues(y_ticks).tickFormat(d3.format(".1f")).tickSize(16).tickPadding(19);

  const gx = svg.append("g").attr("transform", `translate(0,${height - margin.bottom})`).call(x_axis);
  const gy = svg.append("g").attr("transform", `translate(${left},0)`).call(y_axis);
  for (const g of [gx, gy]) {
    g.select(".domain").remove();
    g.selectAll("line").attr("stroke", "#000").attr("stroke-width", 3);
    g.selectAll("text").style("font-size", "42px").style("font-family", '"DejaVu Sans", sans-serif');
  }

  // frame
  svg.append("rect")
    .attr("x", left).attr("y", margin.top)
    .attr("width", right - left).attr("height", height - margin.bottom - margin.top)
    .attr("fill", "none").attr("stroke", "#000").attr("stroke-width", 4);

  // axis labels
  svg.append("text")
    .attr("x", (left + right) / 2)
    .attr("y", 1419)
    .attr("text-anchor", "middle")
    .style("font-size", "42px")
    .text("x");
  svg.append("text")
    .attr("transform", `translate(${left - 132},${(margin.top + height - margin.bottom) / 2}) rotate(-90)`)
    .attr("text-anchor", "middle")
    .style("font-size", "42px")
    .text("y");

  // legend
  const legend_x = right - 220;
  const legend = svg.append("g");
  legend.append("rect")
    .attr("x", legend_x).attr("y", 75)
    .attr("width", 197).attr("height", 424)
    .attr("rx", 7)
    .attr("fill", "#fff").attr("fill-opacity", 0.8)
    .attr("stroke", "#d3d3d3").attr("stroke-width", 4);
  const y_legend = d3.scalePoint().domain(categories).range([117, 458]);
  const rows = legend.selectAll("g").data(categories).join("g");
  rows.append("circle")
    .attr("cx", legend_x + 66)
    .attr("cy", (d) => y_legend(d))
    .attr("r", 16)
    .attr("fill", (d, i) => colors[i]);
  rows.append("text")
    .attr("x", legend_x + 164)
    .attr("y", (d) => y_legend(d))
    .attr("dy", "0.36em")
    .attr("text-anchor", "middle")
    .style("font-size", "42px")
    .text((d) => d);

  // panel caption
  const caption = svg.append("text")
    .attr("x", label_x).attr("y", label_y)
    .attr("text-anchor", "middle")
    .style("font-family", '"Liberation Serif", serif')
    .style("font-size", "78px");
  caption.append("tspan").text("(");
  caption.append("tspan").style("font-weight", "bold").text(label);
  caption.append("tspan").text(")");
}

draw_panel(184, 1838, [a_0.concat(a_0_core), a_1.concat(a_1_core), a_2.concat(a_2_core), a_3.concat(a_3_core), a_4.concat(a_4_core), a_5.concat(a_5_core)], "a", 915, 1559);
draw_panel(2260.5, 3915, [b_0.concat(b_0_core), b_1.concat(b_1_core), b_2.concat(b_2_core), b_3.concat(b_3_core), b_4.concat(b_4_core), b_5.concat(b_5_core)], "b", 3002, 1561);
</script>
</body>
</html>
